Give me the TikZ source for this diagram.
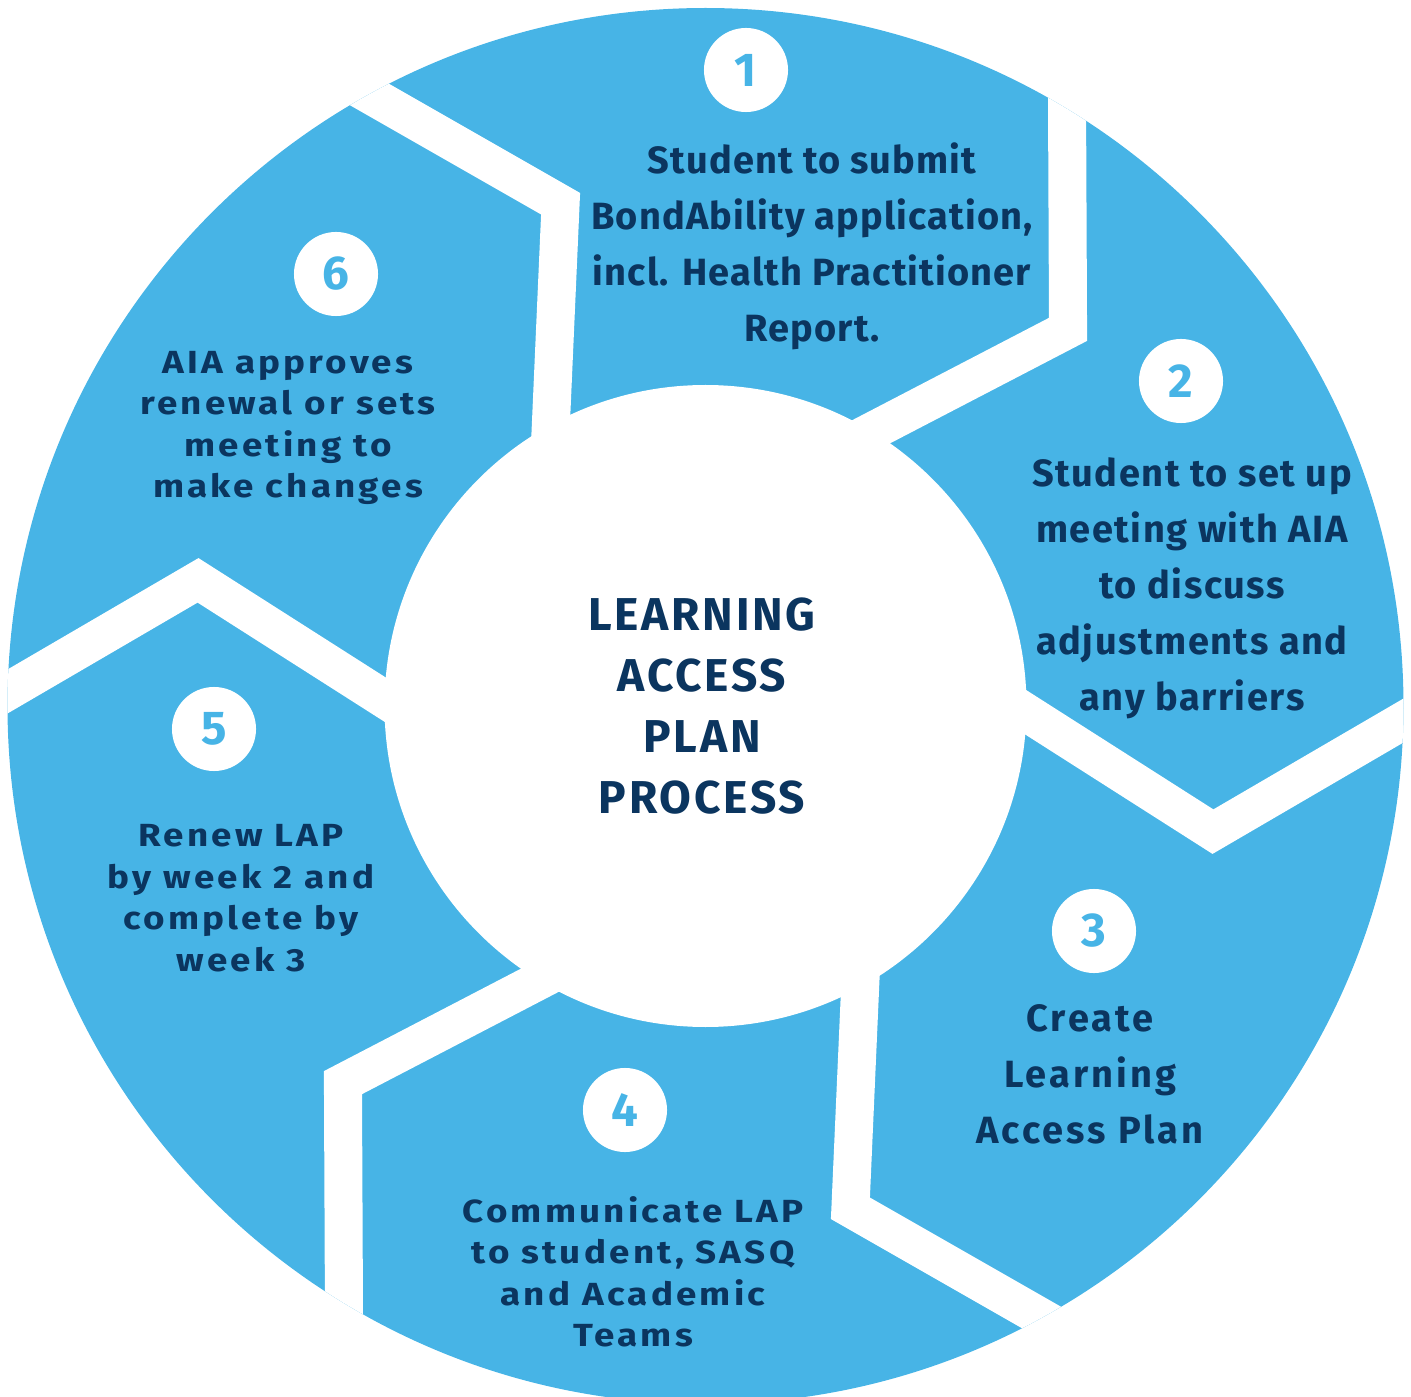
\documentclass[tikz,border=0pt]{standalone}
\usepackage{fontspec}
\setmainfont{Fira Sans}
\usetikzlibrary{calc}
\definecolor{segblue}{HTML}{47B4E6}
\definecolor{navy}{HTML}{0B355F}
\begin{document}
\begin{tikzpicture}[x=0.01cm,y=-0.01cm,
  gapline/.style={draw=white,line width=0.38cm,line join=miter},
  numcirc/.style={circle,fill=white,minimum size=0.84cm,inner sep=0pt,text=segblue,font=\fontsize{13.5pt}{14pt}\selectfont\bfseries},
  bigtxt/.style={text=navy,align=center,inner sep=0pt,font=\fontsize{10.8pt}{15.9pt}\selectfont\bfseries\addfontfeature{LetterSpace=#1}},
  smalltxt/.style={text=navy,align=center,inner sep=0pt,font=\fontsize{9.1pt}{11.8pt}\selectfont\bfseries\addfontfeature{FakeStretch=1.15,LetterSpace=#1}},
  centertxt/.style={text=navy,align=center,inner sep=0pt,font=\fontsize{13.1pt}{17.3pt}\selectfont\bfseries\addfontfeature{LetterSpace=6}},
  ]
\useasboundingbox (0,0) rectangle (1411,1397);
\coordinate (C) at (705.5,706);
\fill[segblue] (C) circle[radius=698];
\begin{scope}
\clip (C) circle[radius=698];
\foreach \p [count=\i] in {301.2,1.2,61.2,121.2,181.2,241.2}{
  \coordinate (A\i) at ($(C)+(\p:510)+(\p+90:115)$);
  \coordinate (O\i) at ($(C)+(\p:698)$);
  \coordinate (I\i) at ($(C)+(\p:321)$);
  \draw[gapline] ($(A\i)!1.5!(I\i)$) -- (A\i) -- ($(A\i)!1.5!(O\i)$);
}
\end{scope}
\fill[white] (C) circle[radius=321];

\node[numcirc] (n1) at (746,70) {1};
\node[numcirc] (n2) at (1181,381) {2};
\node[numcirc] (n3) at (1094,931) {3};
\node[numcirc] (n4) at (625,1110) {4};
\node[numcirc] (n5) at (214,729) {5};
\node[numcirc] (n6) at (336,274) {6};

\node[bigtxt=3] (t1) at (812,246) {Student to submit\\BondAbility application,\\incl. Health Practitioner\\Report.};
\node[bigtxt=4] (t2) at (1192,588) {Student to set up\\meeting with AIA\\to discuss\\adjustments and\\any barriers};
\node[bigtxt=8] (t3) at (1090,1074) {Create\\Learning\\Access Plan};
\node[smalltxt=10] (t4) at (633,1272) {Communicate LAP\\to student, SASQ\\and Academic\\Teams};
\node[smalltxt=10] (t5) at (241,898) {Renew LAP\\by week 2 and\\complete by\\week 3};
\node[smalltxt=10] (t6) at (288,428) {AIA approves\\renewal or sets\\meeting to\\make changes};
\node[centertxt] (tc) at (702,706) {LEARNING\\ACCESS\\PLAN\\PROCESS};
\end{tikzpicture}
\end{document}
